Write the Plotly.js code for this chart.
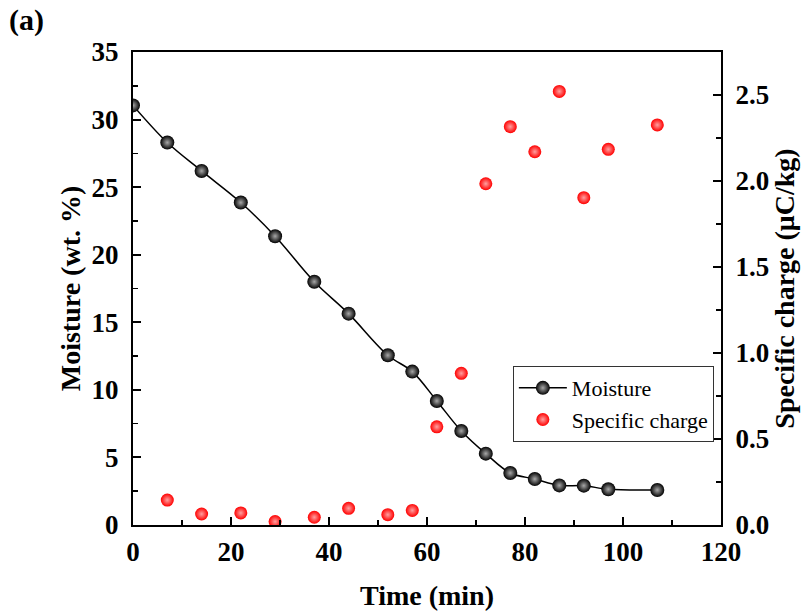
<!DOCTYPE html>
<html>
<head>
<meta charset="utf-8">
<script src="https://cdn.plot.ly/plotly-3.0.1.min.js"></script>
<style>html,body{margin:0;padding:0;background:#fff;}</style>
</head>
<body>
<div id="chart" style="width:812px;height:614px;"></div>
<script>
const moistureTime = [0, 7, 14, 22, 29, 37, 44, 52, 57, 62, 67, 72, 77, 82, 87, 92, 97, 107];
const moistureValue = [31.05, 28.3, 26.2, 23.86, 21.37, 18.0, 15.64, 12.56, 11.35, 9.18, 6.96, 5.28, 3.85, 3.40, 2.93, 2.91, 2.64, 2.59];
const chargeTime = [7, 14, 22, 29, 37, 44, 52, 57, 62, 67, 72, 77, 82, 87, 92, 97, 107];
const chargeValue = [0.145, 0.064, 0.07, 0.02, 0.045, 0.097, 0.06, 0.085, 0.571, 0.882, 1.984, 2.316, 2.170, 2.521, 1.903, 2.184, 2.326];

const FONT = '"Liberation Serif", "Times New Roman", serif';

const traces = [
  {
    x: moistureTime, y: moistureValue, name: 'Moisture',
    type: 'scatter', mode: 'lines+markers',
    line: {color: '#000', width: 1.5, shape: 'spline', smoothing: 1},
    marker: {size: 14, color: '#000', gradient: {type: 'radial', color: '#a8a8a8'}, line: {width: 0}},
    yaxis: 'y'
  },
  {
    x: chargeTime, y: chargeValue, name: 'Specific charge',
    type: 'scatter', mode: 'markers',
    marker: {size: 13, color: '#ff0000', gradient: {type: 'radial', color: '#ffa0a0'}, line: {width: 0}},
    yaxis: 'y2'
  }
];

const tickFont = {family: FONT, size: 27, color: '#000', weight: 'bold'};
const titleFont = {family: FONT, size: 28, color: '#000', weight: 'bold'};

const layout = {
  width: 812, height: 614,
  font: {family: FONT, color: '#000'},
  margin: {l: 133, r: 91, t: 52, b: 89},
  paper_bgcolor: '#fff', plot_bgcolor: '#fff',
  showlegend: true,
  legend: {
    x: 0.646, y: 0.336, xanchor: 'left', yanchor: 'top',
    bordercolor: '#333', borderwidth: 1, bgcolor: '#fff',
    font: {family: FONT, size: 22, color: '#000'},
    itemwidth: 48,
    tracegroupgap: 0
  },
  xaxis: {
    range: [0, 120], dtick: 20, tick0: 0,
    showline: true, linecolor: '#000', linewidth: 2, mirror: true,
    ticks: 'inside', ticklen: 8, tickwidth: 2, tickcolor: '#000',
    minor: {ticks: 'inside', dtick: 10, ticklen: 5, tickwidth: 1.5, tickcolor: '#000'},
    showgrid: false, zeroline: false,
    tickfont: tickFont, ticklabelstandoff: 2,
    title: {text: 'Time (min)', font: titleFont, standoff: 19}
  },
  yaxis: {
    range: [0, 35], dtick: 5, tick0: 0,
    showline: true, linecolor: '#000', linewidth: 2,
    ticks: 'inside', ticklen: 8, tickwidth: 2, tickcolor: '#000',
    minor: {ticks: 'inside', dtick: 2.5, ticklen: 5, tickwidth: 1.5, tickcolor: '#000'},
    showgrid: false, zeroline: false,
    tickfont: tickFont, ticklabelstandoff: 7,
    title: {text: 'Moisture (wt. %)', font: titleFont, standoff: 3}
  },
  yaxis2: {
    range: [0, 2.75], dtick: 0.5, tick0: 0, tickformat: '.1f',
    overlaying: 'y', side: 'right',
    showline: true, linecolor: '#000', linewidth: 2,
    ticks: 'inside', ticklen: 8, tickwidth: 2, tickcolor: '#000',
    minor: {ticks: 'inside', dtick: 0.25, ticklen: 5, tickwidth: 1.5, tickcolor: '#000'},
    showgrid: false, zeroline: false,
    tickfont: tickFont, ticklabelstandoff: 7,
    title: {text: 'Specific charge (μC/kg)', font: titleFont, standoff: 5}
  },
  annotations: [
    {text: '(a)', xref: 'paper', yref: 'paper', x: -0.215, y: 1.068,
     xanchor: 'left', yanchor: 'middle', showarrow: false,
     font: {family: FONT, size: 30, color: '#000', weight: 'bold'}}
  ]
};

Plotly.newPlot('chart', traces, layout, {displayModeBar: false, staticPlot: true});
</script>
</body>
</html>
